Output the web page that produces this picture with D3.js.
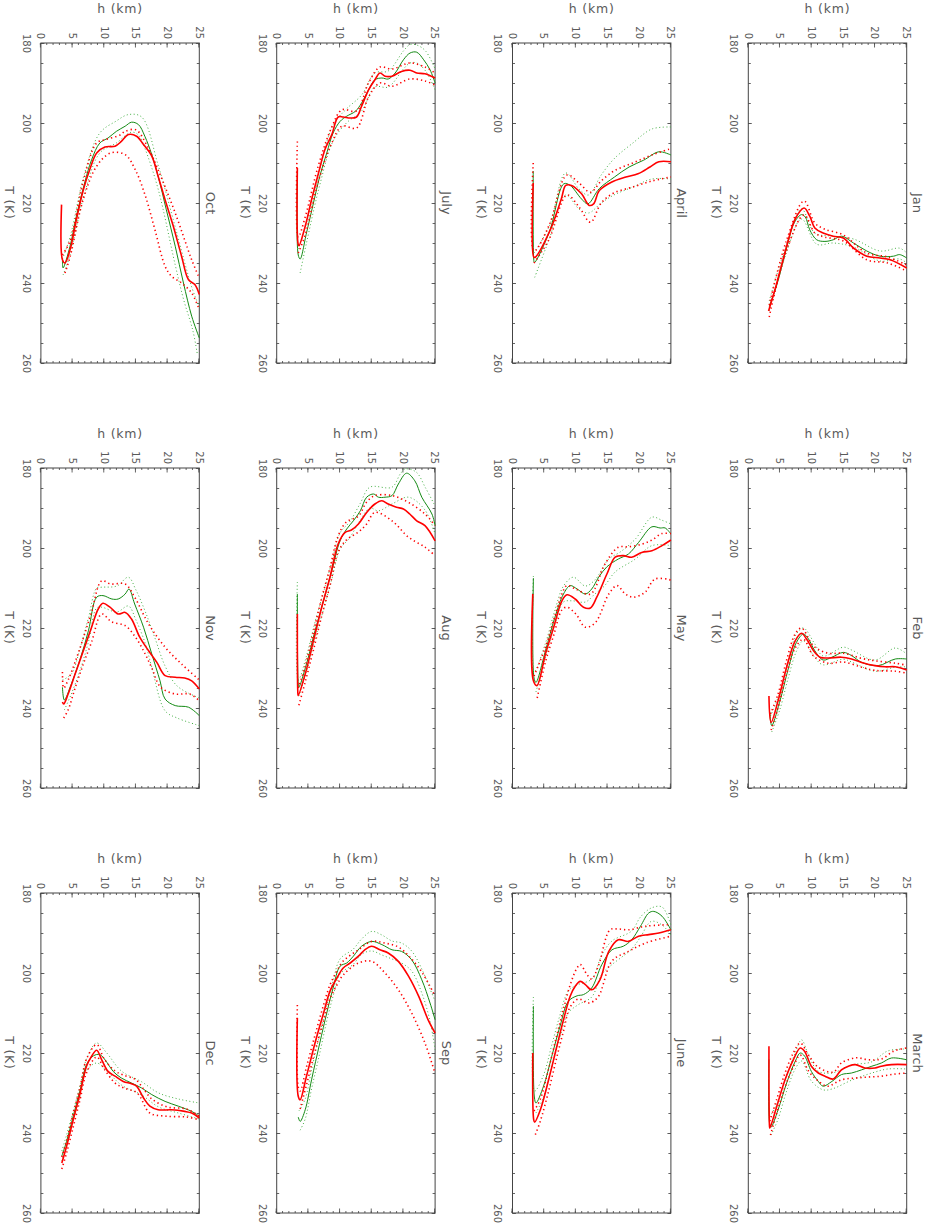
<!DOCTYPE html>
<html>
<head>
<meta charset="utf-8">
<script src="https://cdn.jsdelivr.net/npm/d3@7"></script>
<style>
  body { margin: 0; background: #fff; }
  svg { display: block; }
  text { font-family: "DejaVu Sans", "Liberation Sans", sans-serif; fill: #5a5a5a; }
</style>
</head>
<body>
<div id="chart"></div>
<script>
// month panels, in the order of the original (landscape) page: 4 rows x 3 columns
const months = ["Jan", "Feb", "March", "April", "May", "June", "July", "Aug", "Sep", "Oct", "Nov", "Dec"];
const tTicks = [180, 200, 220, 240, 260];
const hTicks = [0, 5, 10, 15, 20, 25];

// profiles as [h (km), T (K)] pairs, one list per month
const greenMean = [
  [[3.3,245.8],[4.5,240.5],[6.0,231.5],[7.3,224.8],[8.4,222.9],[9.0,223.5],[9.7,226.7],[10.8,229.2],[12.1,229.6],[13.4,229.2],[14.7,228.3],[16.6,230],[18.7,232],[20.8,233.3],[22.9,233.3],[23.9,232.9],[25,233.75]],
  [[3.4,241],[3.7,244.4],[5,238.2],[6.3,230.25],[7.6,223.6],[8.7,221.5],[9.5,222.75],[10.5,225.7],[11.8,228],[13.2,227.3],[15,226.1],[16.3,226.9],[17.9,228.6],[20.5,229.4],[23.2,227.75],[25,227.75]],
  [[3.26,221.6],[3.4,238],[3.6,238.5],[4.7,234.2],[6.05,227.5],[7.4,222.1],[8.2,220],[8.9,220.8],[9.95,224.6],[11.05,227.1],[11.8,228.3],[13.2,227.1],[14.7,225.4],[16.3,225],[17.9,224.2],[19.5,223.3],[21,222.5],[22.6,221.25],[25,221.7]],
  [[3.27,212],[3.35,234],[3.45,234.9],[5.8,227.3],[8.1,215.2],[9.1,215.6],[10.9,219],[11.9,220.2],[13.7,216.4],[16.1,213.5],[18.4,211],[20.7,209.3],[23.1,207.2],[25,208]],
  [[3.3,207.5],[3.4,232.5],[3.7,233.6],[5.2,225.7],[6.7,217.3],[8.05,211.5],[9.1,209.4],[10.2,210.25],[11.5,211.5],[12.5,210.25],[13.6,207.3],[14.9,204.7],[16.7,202.75],[18.3,201.5],[19.9,198.6],[22,194.7],[23.3,195],[24.1,195],[25,196.5]],
  [[3.3,208.3],[3.45,231],[3.7,232.5],[4.9,228.3],[6.2,220.8],[7.5,213.3],[8.8,207.1],[10.2,205.7],[11.2,205.4],[12.5,203.75],[14.1,197.9],[15.7,194.2],[17.5,193.3],[18.8,191.7],[20.2,188.3],[21.5,185],[22.3,184.6],[23.6,185.8],[25,189.2]],
  [[3.26,212],[3.4,233],[3.7,234],[4.7,227.5],[5.8,220],[6.8,213.3],[7.9,207.5],[8.9,202.5],[10,199.6],[11.05,198.3],[12.4,197.1],[13.4,195],[14.5,191.7],[15.5,189.2],[16.6,188.75],[17.6,189],[18.7,187.5],[20,184.2],[21.05,182.5],[22.1,182.3],[23.2,184.2],[24.2,186.7],[25,190]],
  [[3.26,211.5],[3.4,234],[3.5,234.8],[4.7,229],[6.05,220.7],[7.4,213.2],[8.7,205.7],[10,198.2],[11.05,195.25],[12.1,193.2],[13.2,190.7],[14.2,187.3],[15.3,186.5],[16.05,187.3],[17.1,187.3],[18.2,186.9],[19.2,184],[20.5,181.3],[21.8,183.2],[22.9,187.3],[24.5,191.5],[25,194.4]],
  [[3.4,236],[3.7,237.1],[4.5,234.2],[5.5,226.7],[6.8,217.5],[7.9,210],[8.9,203.75],[10,198.3],[11.05,197.5],[12.1,195.8],[13.4,193.3],[15,192.1],[16.6,192.9],[18.2,194.2],[19.7,194.6],[21.3,196.7],[22.9,201.7],[24.2,207.5],[25,211.7]],
  [[3.4,234.5],[3.5,236.25],[4.6,230.8],[5.6,223.3],[6.9,215],[8,209.2],[9.3,205],[10.6,203.75],[11.9,202.1],[13.3,200.8],[14.3,199.8],[15.4,200.4],[16.4,203.3],[17.5,207.9],[18.5,213.3],[19.8,221.7],[21.2,230.8],[22.5,240],[23.8,248.3],[25,253.75]],
  [[3.4,234.8],[3.7,238],[4.8,234],[6.2,227.75],[7.5,220.7],[8.8,212.3],[9.8,211.9],[11.2,212.75],[12.2,212.75],[13.3,211.5],[13.9,210.25],[14.8,214],[16.2,219.8],[17.5,226.5],[18.8,233.2],[19.6,237.75],[21.2,239.4],[23.3,239.8],[25,241.9]],
  [[3.3,245.8],[4.05,242.1],[5.1,235.8],[6.2,229.2],[7.2,222.9],[8.3,220.7],[9.3,220.4],[10.4,222.3],[11.4,224.6],[12.7,226.25],[14.3,227.5],[15.9,228.75],[17.5,230.4],[19.6,232.1],[21.7,233.3],[23.8,234.6],[25,235.8]]
];

const redMean = [
  [[3.2,247],[4.5,240],[6.05,230.8],[7.4,224],[8.8,221.25],[9.7,223.3],[10.5,226.25],[11.8,227.5],[13.4,228.3],[15,228.75],[16.6,231.25],[18.7,233.3],[20.8,233.75],[22.4,234.2],[25,236.25]],
  [[3.26,237],[3.6,243.6],[4.7,238.2],[6.05,229.8],[7.4,223.2],[8.4,221.3],[9.2,222.75],[10.3,225.7],[11.3,227.3],[12.6,227.5],[14.7,227.3],[16.3,227.75],[17.9,228.6],[20,229.4],[21.6,229.7],[23.2,229.7],[25,230.5]],
  [[3.26,218.3],[3.35,238.3],[3.4,238.75],[4.5,233.3],[5.8,226.7],[7.1,221.7],[8.2,218.75],[8.9,219.6],[9.95,223.3],[11.05,225],[12.1,225.8],[13.4,226.5],[14.7,224.2],[15.8,223.3],[16.9,222.9],[18.4,223.75],[20,223.75],[21,223.3],[22.6,222.9],[25,222.9]],
  [[3.27,215],[3.35,233.5],[3.55,233.6],[5.8,227.3],[7.7,219],[8.4,215.6],[9.3,215.6],[10.9,217.7],[12.1,220.6],[12.8,220.2],[13.7,216.9],[15.6,214.8],[17.9,213.5],[19.8,212.7],[21.7,211],[23.1,209.7],[25,209.7]],
  [[3.2,211.5],[3.3,233.2],[3.85,234.4],[5.2,226.5],[6.5,219.8],[7.8,213.2],[8.6,211.7],[9.9,212.75],[11.2,214.8],[12.3,215],[13.3,212.3],[14.9,206.5],[16.2,202.3],[17.5,201.9],[18.8,202.3],[20.4,201.1],[22,200.7],[23.6,199.4],[25,198]],
  [[3.2,220],[3.35,236.7],[3.5,237.3],[4.4,234.2],[5.7,226.7],[7,218.3],[8.05,211.7],[9.1,205.8],[9.9,203.3],[10.7,202.1],[11.5,202.9],[12.5,204.2],[13.8,201.7],[15.2,194.6],[16.7,191.7],[18.3,192.1],[19.9,190.8],[21.5,190.4],[23.1,190],[25,189.2]],
  [[3.26,211.25],[3.35,230],[3.5,230.7],[4.5,225.8],[5.5,219.2],[6.6,212.5],[7.6,206.7],[8.7,202.9],[9.7,198.5],[10.5,198.5],[11.6,198.75],[12.6,198.5],[13.4,195.8],[14.5,191.7],[15.5,189.2],[16.3,187.5],[17.1,188.3],[18.2,188.3],[19.7,187.1],[21.05,186.8],[22.1,187.5],[23.4,187.7],[25,188.75]],
  [[3.26,216.5],[3.35,236.5],[3.4,236.9],[4.5,231.5],[5.8,223.2],[7.1,214.8],[8.4,207.3],[9.7,199],[10.8,196.1],[11.8,195.5],[12.9,194],[14.2,191.1],[15.5,189],[16.6,188.2],[17.6,189],[18.9,189.8],[20,190.25],[21,191.5],[22.1,193.2],[23.4,194.4],[25,198.2]],
  [[3.26,211.25],[3.4,230.8],[3.7,231.7],[4.7,225.8],[6.05,217.5],[7.4,210],[8.4,204.6],[9.5,201.25],[10.5,198.75],[11.6,197.5],[12.9,195.8],[13.9,194.2],[15,193.3],[16.3,194.2],[17.6,195],[19.2,197.1],[20.8,200.8],[22.4,205.8],[23.9,211.7],[25,215]],
  [[3.26,220.4],[3.4,234.2],[3.8,235],[4.6,231.7],[5.6,224.2],[6.7,216.7],[7.7,211.7],[8.8,207.5],[10.1,206],[11.7,205.8],[12.7,204.6],[13.8,202.9],[15.1,203.3],[16.2,205.4],[17.5,208.3],[18.5,213.3],[19.6,219.2],[20.9,225.8],[22.2,233.3],[23.3,239.2],[24.3,240.4],[25,242.9]],
  [[3.4,238.5],[3.6,239],[4.3,236.5],[5.4,231.5],[6.7,225.7],[8,219.8],[9.05,215.25],[9.8,213.8],[10.9,214.8],[12.2,216.5],[13.3,216.1],[14.3,217.75],[15.6,222.3],[17,225.7],[18.3,228.6],[19.6,231.9],[21.2,232.3],[22.7,232.5],[23.8,233.2],[25,235.25]],
  [[3.3,247.5],[4.05,243.3],[5.1,236.7],[6.2,230],[7.2,223.3],[8,220.8],[8.8,219.3],[9.6,221.7],[10.6,224.6],[11.7,225.8],[13,227.1],[14.3,227.7],[15.1,228.3],[16.2,231.25],[17.2,233.3],[18.5,234.2],[20.6,234.2],[22.7,234.6],[23.8,235],[25,236.25]]
];

// dotted envelopes: cold (low T) and warm (high T) side of each mean profile
const greenCold = [
  [[3.3,244.5],[6,230.5],[8.4,221.5],[10.5,227.5],[13.4,228.3],[16.6,229],[20.8,232],[23.9,231.3],[25,232.5]],
  [[3.5,242],[5,236],[6.3,228],[7.6,221.5],[8.7,220],[10.5,224],[11.8,227],[15,224.8],[16.3,225.5],[20,228],[23.2,225],[25,226.5]],
  [[3.4,236],[4.7,232],[6.05,225.5],[7.4,220],[8.4,216.7],[9.5,220.5],[11,224.5],[13.2,225],[16.3,223],[19.5,222.2],[22,219.5],[25,219]],
  [[3.4,232.5],[5.8,225.8],[8.4,212.5],[10.5,216.5],[12,218],[14,213],[16,209],[19,205],[22,201.5],[25,201]],
  [[3.3,207],[3.4,231],[5.2,223.8],[6.7,215.5],[8.05,209.5],[9.6,207.3],[11.5,209.5],[13,208],[15.2,202.75],[17,201],[19.4,197.75],[22,192.3],[23.5,193],[25,194]],
  [[3.3,206],[3.5,229.5],[4.9,225.5],[6.2,218],[7.5,210.5],[8.8,204.5],[10.2,203],[12.5,201.5],[14.1,195.5],[15.7,192],[18.8,189.5],[20.2,186],[21.9,183.75],[23.6,183.5],[25,188]],
  [[3.4,231.5],[4.7,225],[6.8,211.5],[8.9,200.5],[11,196.5],[13.4,193],[15.5,187.5],[17.6,187],[20,182],[21.05,180.4],[22.1,180.5],[23.5,182],[25,186.5]],
  [[3.26,208.5],[3.4,233],[4.7,227],[6.05,218.5],[7.4,211],[8.7,203.5],[10,196.2],[11.5,193.5],[13.2,188.8],[14.7,184.8],[18.2,184.8],[19.5,181.5],[20.3,180.25],[22,181],[23.5,185],[25,189.5]],
  [[3.5,234.5],[4.5,231.5],[5.5,224.2],[6.8,215.2],[7.9,208],[8.9,202],[10,196.5],[12.1,194],[13.4,191.5],[15,189.6],[16.6,190.5],[18.2,192],[19.7,192.5],[21.3,194.5],[22.9,199],[24.2,204],[25,207]],
  [[3.4,234],[4.6,228.5],[6.9,212.5],[9.3,202.5],[11.9,199.5],[13.8,197.9],[15.9,198.5],[18.5,210.5],[21.2,226],[23.8,241],[25,246]],
  [[3.4,233],[4.8,231.5],[6.2,225],[7.5,217.5],[8.8,210],[9.6,209.8],[12,209.5],[13.8,207.3],[15,210.5],[16.5,216],[18,222.5],[19.6,229.5],[21.5,234.5],[25,237.5]],
  [[3.3,244.5],[4.05,240.5],[5.1,234.5],[6.2,228],[7.2,221.5],[8.8,217.5],[10.4,220],[12.7,224.5],[15.9,227.2],[18.6,230],[21.7,231.5],[25,232.5]]
];

const greenWarm = [
  [[3.3,247],[6,232.5],[8.4,224],[10.8,230.3],[13.4,230],[16.6,231],[20.8,234.5],[23.9,234],[25,235]],
  [[3.7,246],[5,240.3],[6.3,232.5],[7.6,225.8],[8.7,223.2],[10.5,227.4],[11.8,229.2],[15,227.8],[16.3,228.5],[20,230.8],[23.2,229.8],[25,229.7]],
  [[3.6,240.5],[4.7,236.5],[6.05,229.5],[7.4,224],[8.4,222],[9.95,227],[11.8,229.2],[13.2,229],[16.3,226.8],[19.5,225],[22,224],[25,224]],
  [[3.5,238.6],[5.8,229],[8.4,218],[10.5,221.5],[12,222.5],[14,220],[16,218],[19,216],[22,214],[25,214]],
  [[3.7,236],[5.2,227.5],[6.7,219],[8.05,213.5],[9.4,213.2],[11.5,213.5],[13,211.5],[14.5,209.5],[16.2,206],[19.4,202.75],[22,199.4],[25,199.4]],
  [[3.7,235],[4.9,231],[6.2,223.5],[7.5,216],[8.8,210],[10.4,207.9],[12.5,206],[14.1,200.3],[15.7,197.9],[18.8,194],[20.2,191],[21.9,187.1],[23.6,188],[25,190.5]],
  [[3.7,237.5],[4.7,230],[6.8,215.5],[8.9,204.5],[11,200],[13.4,197],[15.5,191],[17.6,191],[20,186.5],[21.05,185],[22.1,185],[23.5,187],[25,191.7]],
  [[3.5,237],[4.7,231],[6.05,222.8],[7.4,215.3],[8.7,207.8],[10,200.3],[11.5,197.5],[13.2,193],[14.7,190],[16.05,190.7],[18.2,189],[20.8,187.3],[23.4,190.5],[25,196.5]],
  [[3.7,239.3],[4.5,236.5],[5.5,229],[6.8,220],[7.9,212],[8.9,205.8],[10,200.3],[12.1,197.8],[13.4,195.3],[15,194.5],[16.6,195.5],[18.2,196.5],[19.7,197.5],[21.3,199.5],[22.9,205],[24.2,212],[25,219.2]],
  [[3.5,238],[4.6,233],[6.9,217.5],[9.3,207.5],[11.9,205],[14.3,202.3],[15.4,203],[16.4,206.3],[18.5,216.5],[21.2,235.5],[22.5,244],[24,252],[24.7,257.9]],
  [[3.7,240.5],[4.8,236.5],[6.2,230.5],[7.5,223.5],[8.8,215],[9.6,214.8],[12,216],[13.8,214.5],[15,218],[16.5,224],[17.5,229.8],[19.6,240.7],[21.5,242.5],[25,244.4]],
  [[3.3,247],[4.05,243.5],[5.1,237],[6.2,230.5],[7.2,224.5],[8.8,222.5],[10.4,224.5],[12.7,228],[15.9,230.5],[18.6,233.5],[21.7,235],[25,236.5]]
];

const redCold = [
  [[3.3,245.5],[6,229.5],[8.8,219.5],[10.5,225],[12,226.5],[15,228],[18.7,232.5],[22,233.5],[25,235.5]],
  [[3.5,241.5],[4.7,236.5],[6.05,228],[7.4,221.5],[8.4,220],[10.3,224.5],[12.6,226.3],[15,226.3],[17.9,227.6],[20,228.2],[23.2,228.8],[25,229.3]],
  [[3.4,237],[4.5,231.5],[5.8,225],[7.1,220],[8.2,217.5],[9.5,220.5],[11,223.5],[13.4,224.8],[14.7,222.5],[17,221.2],[19,221.7],[21,221.5],[23,219.5],[25,218.75]],
  [[3.27,210],[3.4,232],[5.8,225.5],[8.6,213],[10.5,215],[12.3,217.3],[14,214.5],[16,212],[19,210],[22,208],[25,206.4]],
  [[3.4,232],[5.2,224.8],[6.5,218],[7.8,211.5],[8.6,209.4],[10,210.3],[12.3,211.5],[14.6,204],[16.7,199.8],[18.3,199.7],[20.5,199],[22,198],[23.6,196.4],[25,196.4]],
  [[3.4,234.5],[4.4,231.5],[5.7,224],[7,215.5],[8.05,209],[9.1,203],[10.1,199],[10.7,197.9],[11.8,200.5],[12.5,201.5],[13.6,198],[15.4,189.2],[16.7,189],[18.3,189.2],[21,188.3],[25,187.9]],
  [[3.26,204.6],[3.4,228.5],[4.5,223.5],[6.6,210.5],[8.7,201],[10.3,196.7],[12.6,197],[14.5,190],[16.3,186],[18.2,186.5],[21,185],[23.4,186],[25,187.5]],
  [[3.4,235],[4.5,229.5],[5.8,221],[7.1,212.5],[8.4,205],[9.7,197],[11,193.5],[12.9,192],[14.2,188.5],[15.5,186.9],[18.2,186.9],[20.8,188.6],[23.4,191.5],[25,194.4]],
  [[3.26,208],[3.4,228.5],[3.7,229.5],[4.7,223.5],[6.05,215.5],[7.4,208],[8.4,203],[9.5,199.5],[10.5,197],[12.9,194.2],[15,192.1],[17,192.5],[19.2,193.5],[21,196],[23,200],[25,205.8]],
  [[3.4,233],[4.6,229.5],[6.7,214.5],[8.8,205],[10.1,204.2],[12.5,203],[13.3,202.1],[15,201.7],[16.8,205.8],[18.5,211.7],[21.2,222.5],[23.8,234.2],[25,238.75]],
  [[3.4,231],[3.6,235],[4.3,233],[5.4,228.5],[6.7,222.5],[8,216],[9.6,208.2],[11,209],[13.3,209],[14.8,212.3],[17,219],[19.6,224.8],[22.2,229],[25,233]],
  [[3.3,246],[4.05,242],[5.1,235],[6.2,228.5],[7.2,221.5],[8.8,217.9],[10,221.5],[11.7,224.5],[13,225.5],[15,226.7],[16.2,229],[17.5,231.5],[20,233.5],[23,234],[25,235.8]]
];

const redWarm = [
  [[3.3,248.5],[6,232],[8.8,223],[10.5,227.5],[12,228.5],[15,229.5],[18.7,234.2],[22,235],[25,237]],
  [[3.6,245.5],[4.7,240],[6.05,231.5],[7.4,225],[8.7,222.8],[10.3,227],[12.6,228.8],[15,228.5],[17.9,229.8],[20,230.6],[23.2,230.8],[25,231.3]],
  [[3.5,240.5],[4.5,235],[5.8,228.5],[7.1,223.5],[8.2,220.5],[9.5,224.5],[11.05,227],[12.5,228.3],[14.7,226.7],[17,226.25],[19,226],[21,225.8],[23,225.3],[25,225]],
  [[3.4,235],[5.8,229],[8.6,218],[10.5,221],[12.3,224.8],[14,220],[16,217.5],[19,216],[22,214.5],[25,213.5]],
  [[3.9,237.5],[5.2,228.5],[6.5,221.8],[7.8,215.5],[8.6,214.8],[10,216.5],[11.5,219.8],[13.1,218.6],[15.2,211.5],[16.5,209.4],[17.8,211.5],[19.1,212.3],[20.9,211.1],[22.5,207.75],[25,208]],
  [[3.6,240.4],[4.4,237],[5.7,229.5],[7,221],[8.05,214.5],[9.1,208.5],[10.4,206.5],[12,207.5],[13.5,206],[15.7,197],[18.3,194.6],[21,192.5],[25,190.8]],
  [[3.4,232.5],[4.5,228],[6.6,214.5],[8.7,205],[10.3,200.8],[12.6,201.25],[14.5,193.5],[16.3,190],[18.2,190.8],[21,189],[23.4,189.5],[25,190.5]],
  [[3.5,239.3],[4.5,233.5],[5.8,225.5],[7.1,217],[8.4,209.5],[9.7,201],[11,198],[12.9,196],[14.2,194],[15.5,191.1],[18.2,193.2],[20.8,197.3],[23.4,199.8],[25,201.9]],
  [[3.7,234],[4.7,228],[6.05,219.5],[7.4,212],[8.4,206.5],[9.5,203],[10.5,200.5],[12.9,197.5],[15,197.1],[17.1,200],[19.2,204.2],[21.3,210],[23.4,217.5],[24.9,224.6]],
  [[3.8,237.5],[4.6,233.5],[6.7,219],[8.8,210.8],[11,207.5],[13.3,207.9],[14.9,211.7],[16.5,218.3],[18,226.7],[19.6,235.8],[20.6,238.3],[22.2,240],[23.8,242.5],[25,246.7]],
  [[3.6,242.5],[4.3,240.5],[5.4,235],[6.7,229],[8,223.5],[9.6,216.5],[11.2,218.5],[13.3,219.4],[14.8,222],[16.2,225.7],[17.5,230],[18.9,234.8],[21.2,236.5],[23.5,236.5],[25,238.2]],
  [[3.3,249],[4.05,245],[5.1,238.5],[6.2,231.5],[7.2,225],[8.8,221],[10,224],[11.7,227.5],[13.1,228.75],[15.2,230],[17.2,235],[19.8,235.8],[23,236],[25,236.7]]
];

const width = 926, height = 1226;
const svg = d3.select("#chart").append("svg")
    .attr("width", width)
    .attr("height", height);

// the whole page is a landscape plot turned a quarter turn clockwise
const page = svg.append("g")
    .attr("transform", `translate(${width},0) rotate(90)`);

const panelW = 320, panelH = 158.4;
const x = d3.scaleLinear().domain([180, 260]).range([0, panelW]);
const y = d3.scaleLinear().domain([0, 25]).range([panelH, 0]);

const line = d3.line()
    .x(d => x(d[1]))
    .y(d => y(d[0]))
    .curve(d3.curveCatmullRom.alpha(0.5));

const GREEN = "#138a13", GREEN_DOT = "#45b045", RED = "#ff0000";
const font = "DejaVu Sans, Liberation Sans, sans-serif";

function axis(g, gen, t) {
    g.append("g")
        .attr("transform", t || null)
        .attr("color", "#555")
        .attr("font-size", 11.5)
        .attr("font-family", font)
        .call(gen)
        .call(a => a.select(".domain").remove())
        .call(a => a.selectAll("line").attr("stroke-width", 0.9));
}

months.forEach((m, i) => {
    const row = Math.floor(i / 3), col = i % 3;
    const g = page.append("g")
        .attr("transform", `translate(${43 + 425 * col},${19.3 + 235.8 * row})`);

    // minor ticks, all four sides, pointing inward
    const tMinor = d3.range(180, 261, 5), hMinor = d3.range(0, 26, 1);
    axis(g, d3.axisBottom(x).tickValues(tMinor).tickSizeInner(-2.5).tickSizeOuter(0).tickFormat(""), `translate(0,${panelH})`);
    axis(g, d3.axisTop(x).tickValues(tMinor).tickSizeInner(-2.5).tickSizeOuter(0).tickFormat(""));
    axis(g, d3.axisLeft(y).tickValues(hMinor).tickSizeInner(-2).tickSizeOuter(0).tickFormat(""));
    axis(g, d3.axisRight(y).tickValues(hMinor).tickSizeInner(-2).tickSizeOuter(0).tickFormat(""), `translate(${panelW},0)`);

    // major ticks with labels
    axis(g, d3.axisBottom(x).tickValues(tTicks).tickSizeInner(-3.5).tickSizeOuter(0).tickPadding(11).tickFormat(d3.format("d")), `translate(0,${panelH})`);
    axis(g, d3.axisTop(x).tickValues(tTicks).tickSizeInner(-3.5).tickSizeOuter(0).tickFormat(""));
    axis(g, d3.axisLeft(y).tickValues(hTicks).tickSizeInner(-4.5).tickSizeOuter(0).tickPadding(4).tickFormat(d3.format("d")));
    axis(g, d3.axisRight(y).tickValues(hTicks).tickSizeInner(-4.5).tickSizeOuter(0).tickFormat(""), `translate(${panelW},0)`);

    g.append("rect")
        .attr("width", panelW)
        .attr("height", panelH)
        .attr("fill", "none")
        .attr("stroke", "#444")
        .attr("stroke-width", 1);

    // profiles
    [greenCold[i], greenWarm[i]].forEach(p => {
        g.append("path").attr("d", line(p))
            .attr("fill", "none").attr("stroke", GREEN_DOT)
            .attr("stroke-width", 1).attr("stroke-dasharray", "1,2.5");
    });
    g.append("path").attr("d", line(greenMean[i]))
        .attr("fill", "none").attr("stroke", GREEN).attr("stroke-width", 1);
    [redCold[i], redWarm[i]].forEach(p => {
        g.append("path").attr("d", line(p))
            .attr("fill", "none").attr("stroke", RED)
            .attr("stroke-width", 1.6).attr("stroke-dasharray", "1.3,3");
    });
    g.append("path").attr("d", line(redMean[i]))
        .attr("fill", "none").attr("stroke", RED).attr("stroke-width", 1.6);

    // titles
    g.append("text")
        .attr("x", panelW / 2).attr("y", -6.5)
        .attr("text-anchor", "middle")
        .style("font-size", "13px")
        .text(m);
    g.append("text")
        .attr("x", panelW / 2).attr("y", panelH + 36)
        .attr("text-anchor", "middle")
        .style("font-size", "12.5px")
        .style("letter-spacing", "0.8px")
        .text("T (K)");
    g.append("text")
        .attr("transform", `translate(-30,${panelH / 2}) rotate(-90)`)
        .attr("text-anchor", "middle")
        .style("font-size", "12.5px")
        .style("letter-spacing", "0.8px")
        .text("h (km)");
});
</script>
</body>
</html>
